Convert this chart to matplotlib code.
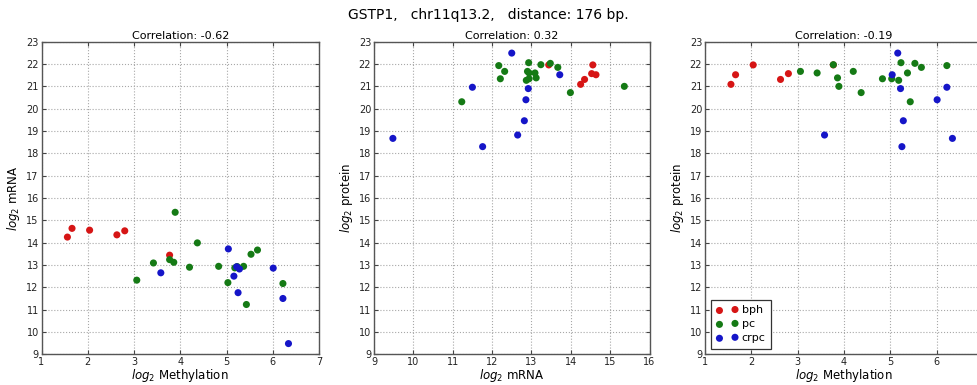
import matplotlib
matplotlib.use("Agg")
import matplotlib.pyplot as plt

# ---- data ----
groups = ["bph", "pc", "crpc"]
colors = ["#d61515", "#157a15", "#1515c8"]

bph_meth = [1.56, 1.66, 2.04, 2.63, 2.80, 3.77]
bph_mrna = [14.25, 14.64, 14.56, 14.35, 14.53, 13.44]
bph_prot = [21.09, 21.52, 21.96, 21.31, 21.57, 21.96]

pc_meth = [3.89, 3.42, 3.77, 3.86, 3.06, 4.37, 4.20, 4.83, 5.03, 5.18, 5.37, 5.53, 5.67, 6.22, 5.43, 5.23]
pc_mrna = [15.36, 13.09, 13.24, 13.12, 12.32, 13.99, 12.90, 12.94, 12.21, 12.87, 12.94, 13.48, 13.67, 12.17, 11.23, 12.93]
pc_prot = [21.00, 21.60, 21.97, 21.38, 21.67, 20.72, 21.67, 21.34, 21.34, 21.27, 21.60, 22.03, 21.85, 21.93, 20.31, 22.06]

crpc_meth = [3.58, 5.04, 5.22, 5.28, 5.16, 5.25, 6.01, 6.22, 6.34]
crpc_mrna = [12.65, 13.72, 12.92, 12.82, 12.50, 11.76, 12.86, 11.50, 9.48]
crpc_prot = [18.82, 21.52, 20.90, 19.46, 22.49, 18.30, 20.40, 20.96, 18.67]

suptitle = "GSTP1,   chr11q13.2,   distance: 176 bp."
titles = ["Correlation: -0.62", "Correlation: 0.32", "Correlation: -0.19"]
xlabels = ["$log_2$ Methylation", "$log_2$ mRNA", "$log_2$ Methylation"]
ylabels = ["$log_2$ mRNA", "$log_2$ protein", "$log_2$ protein"]
xlims = [(1, 7), (9, 16), (1, 7)]
ylims = [(9, 23), (9, 23), (9, 23)]

meth = [bph_meth, pc_meth, crpc_meth]
mrna = [bph_mrna, pc_mrna, crpc_mrna]
prot = [bph_prot, pc_prot, crpc_prot]
pairs = [(meth, mrna), (mrna, prot), (meth, prot)]

# ---- figure ----
W, H = 977, 385
fig = plt.figure(figsize=(W / 100, H / 100), dpi=100)
fig.patch.set_facecolor("white")

axes_px = [(41.5, 277.5), (374, 275.5), (705, 278)]
bottom_px, top_px = 354.3, 41.7

for i, ((xs, ys), (lpx, wpx)) in enumerate(zip(pairs, axes_px)):
    ax = fig.add_axes([lpx / W, (H - bottom_px) / H, wpx / W, (bottom_px - top_px) / H])
    for g, c, x, y in zip(groups, colors, xs, ys):
        ax.scatter(x, y, s=26, c=c, edgecolors="none", label=g, zorder=3)
    ax.set_xlim(*xlims[i])
    ax.set_ylim(*ylims[i])
    xt = list(range(xlims[i][0], xlims[i][1] + 1))
    ax.set_xticks(xt)
    if i == 2:
        # the reference crops the last panel at its right edge, so "7" is not shown
        ax.set_xticklabels([str(v) if v < xlims[i][1] else "" for v in xt])
    ax.set_yticks(range(ylims[i][0], ylims[i][1] + 1))
    ax.grid(True, linestyle=":", color="#a8a8a8", linewidth=0.8)
    ax.set_axisbelow(True)
    ax.tick_params(direction="in", length=3, labelsize=7, top=True, right=True,
                   color="#444444", labelcolor="#222222", pad=2)
    for sp in ax.spines.values():
        sp.set_color("#555555")
        sp.set_linewidth(1.0)
    ax.set_title(titles[i], fontsize=8, pad=2)
    ax.set_xlabel(xlabels[i], fontsize=8.5, labelpad=0)
    ax.set_ylabel(ylabels[i], fontsize=8.5, labelpad=3)
    if i == 2:
        leg = ax.legend(loc="lower left", scatterpoints=2, fontsize=8, fancybox=False,
                        framealpha=1, edgecolor="#333333", handletextpad=0.3,
                        borderpad=0.5, labelspacing=0.35, borderaxespad=0.5)
        leg.get_frame().set_linewidth(0.9)

fig.text(0.5, 1 - 15 / H, suptitle, ha="center", va="center", fontsize=10)

fig.savefig("out.png", dpi=100)
